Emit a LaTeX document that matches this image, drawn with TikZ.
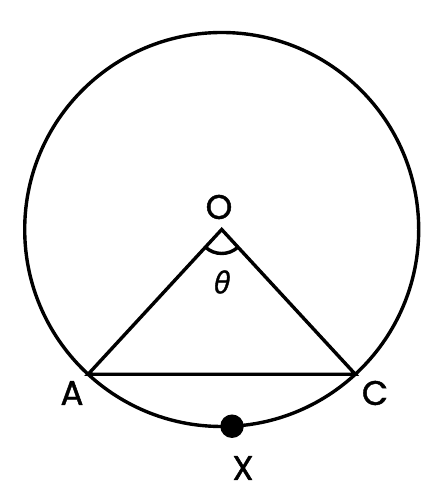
\documentclass[tikz,border=0pt]{standalone}
\usepackage{fontspec}
\usetikzlibrary{calc}
\setmainfont{Poppins}
\newfontfamily\lblfont{Poppins}[FakeBold=1.3]
\newfontfamily\gk{Open Sans}[FakeBold=1.2]
\begin{document}
\begin{tikzpicture}[x=1pt,y=1pt,
  line/.style={line width=3.4pt,black},
  lbl/.style={font=\lblfont\fontsize{34}{34}\selectfont, inner sep=0pt}]
\useasboundingbox (0,0) rectangle (445,500);
\coordinate (O) at (221.7,270.5);
\draw[line] (O) circle (197);
\coordinate (A) at ($(O)+(227.3:197)$);
\coordinate (C) at ($(O)+(312.7:197)$);
\draw[line, line join=miter] (A) -- (O) -- (C) -- cycle;
\draw[line] ($(O)+(227.3:24)$) arc (227.3:312.7:24);
\node[circle, fill=black, minimum size=23.5pt, inner sep=0pt] (X) at ($(O)+(273:197)$) {};
\node[lbl] (lo) at (219,293) {O};
\node[lbl] (la) at (72,107) {A};
\node[lbl] (lc) at (375,107) {C};
\node[lbl] (lx) at (243,32) {X};
\node[inner sep=0pt, font=\gk\itshape\fontsize{30}{30}\selectfont] (th) at (222,218) {θ};
\end{tikzpicture}
\end{document}
